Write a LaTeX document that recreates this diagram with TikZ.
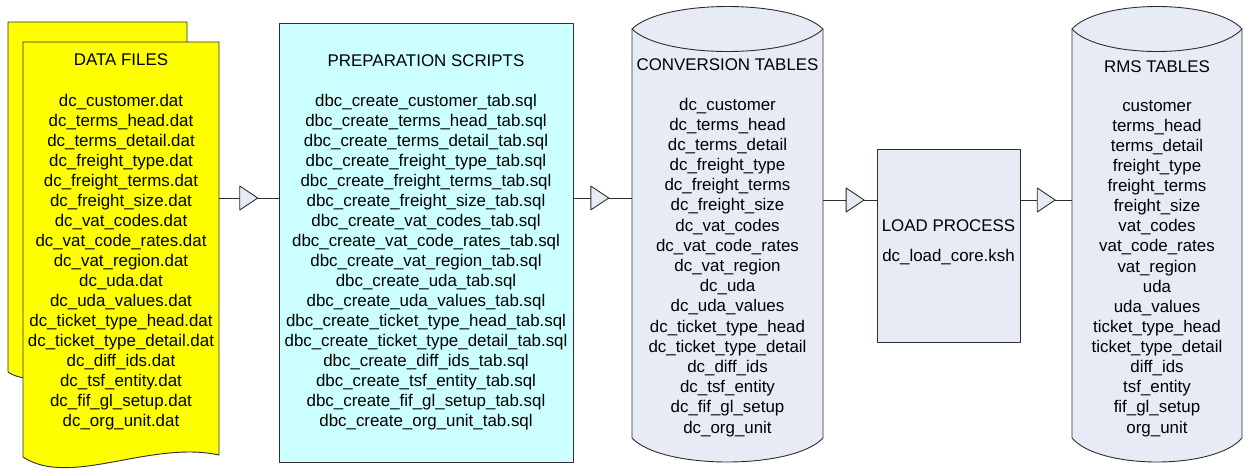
\documentclass[tikz,border=0pt]{standalone}
\usepackage{fontspec}
\setmainfont{Liberation Sans}
\usepackage{tikz}
\usetikzlibrary{calc}
\definecolor{edge}{HTML}{2E2E2E}
\definecolor{filefill}{HTML}{FFFF00}
\definecolor{scriptfill}{HTML}{CCFFFF}
\definecolor{tablefill}{HTML}{E6EBF5}
\tikzset{
  outline/.style={draw=edge, line width=0.9pt, line join=round},
  box/.style={outline, rectangle, inner sep=0pt},
  txt/.style={font=\fontsize{16.9pt}{20pt}\selectfont, text=black, inner sep=0pt,
              text height=12pt, text depth=0pt},
  link/.style={draw=edge, line width=0.9pt},
  tri/.style={draw=edge, fill=tablefill, line width=0.9pt, line join=round},
  flow/.pic={\path[tri] (-9,-12) -- (9,0) -- (-9,12) -- cycle;},
}

\begin{document}
\begin{tikzpicture}[x=1pt, y=-1pt]
  \useasboundingbox (0,0) rectangle (1243,469);
  % data files (two sheets)
  \path[outline, fill=filefill] (8,22) -- (187,22) -- (187,372)
    .. controls (120,356) and (40,394) .. (8,372) -- cycle;
  \path[outline, fill=filefill] (23,42) -- (219,42) -- (219,455)
    .. controls (150,440) and (70,488) .. (23,457) -- cycle;
  \node[txt] (dftitle) at (121,59) {DATA FILES};
  \foreach \t [count=\i] in {dc\_customer.dat, dc\_terms\_head.dat, dc\_terms\_detail.dat,
    dc\_freight\_type.dat, dc\_freight\_terms.dat, dc\_freight\_size.dat, dc\_vat\_codes.dat,
    dc\_vat\_code\_rates.dat, dc\_vat\_region.dat, dc\_uda.dat, dc\_uda\_values.dat,
    dc\_ticket\_type\_head.dat, dc\_ticket\_type\_detail.dat, dc\_diff\_ids.dat,
    dc\_tsf\_entity.dat, dc\_fif\_gl\_setup.dat, dc\_org\_unit.dat}
    \node[txt] (df\i) at (121,{100+20.06*(\i-1)}) {\t};
  \coordinate (df-e) at (219,198);

  % preparation scripts
  \node[box, fill=scriptfill, minimum width=294pt, minimum height=439pt] (prep) at (426,242.5) {};
  \node[txt] (preptitle) at (426,60) {PREPARATION SCRIPTS};
  \foreach \t [count=\i] in {dbc\_create\_customer\_tab.sql, dbc\_create\_terms\_head\_tab.sql,
    dbc\_create\_terms\_detail\_tab.sql, dbc\_create\_freight\_type\_tab.sql,
    dbc\_create\_freight\_terms\_tab.sql, dbc\_create\_freight\_size\_tab.sql,
    dbc\_create\_vat\_codes\_tab.sql, dbc\_create\_vat\_code\_rates\_tab.sql,
    dbc\_create\_vat\_region\_tab.sql, dbc\_create\_uda\_tab.sql, dbc\_create\_uda\_values\_tab.sql,
    dbc\_create\_ticket\_type\_head\_tab.sql, dbc\_create\_ticket\_type\_detail\_tab.sql,
    dbc\_create\_diff\_ids\_tab.sql, dbc\_create\_tsf\_entity\_tab.sql,
    dbc\_create\_fif\_gl\_setup\_tab.sql, dbc\_create\_org\_unit\_tab.sql}
    \node[txt] (ps\i) at (426,{100+20.06*(\i-1)}) {\t};

  % conversion tables
  \path[outline, fill=tablefill] (632,29) .. controls (662,-1) and (793,-1) .. (823,29)
    -- (823,438) .. controls (793,470) and (662,470) .. (632,438) -- cycle;
  \path[outline] (632,29) .. controls (662,59) and (793,59) .. (823,29);
  \node[txt] (cttitle) at (727.5,64) {CONVERSION TABLES};
  \foreach \t [count=\i] in {dc\_customer, dc\_terms\_head, dc\_terms\_detail, dc\_freight\_type,
    dc\_freight\_terms, dc\_freight\_size, dc\_vat\_codes, dc\_vat\_code\_rates, dc\_vat\_region,
    dc\_uda, dc\_uda\_values, dc\_ticket\_type\_head, dc\_ticket\_type\_detail, dc\_diff\_ids,
    dc\_tsf\_entity, dc\_fif\_gl\_setup, dc\_org\_unit}
    \node[txt] (ct\i) at (727.5,{104+20.19*(\i-1)}) {\t};
  \coordinate (ct-w) at (632,198);
  \coordinate (ct-e) at (823,200);

  % load process
  \node[box, fill=tablefill, minimum width=143pt, minimum height=193pt] (load) at (948.5,245.5) {};
  \node[txt] (loadtitle) at (948.5,225) {LOAD PROCESS};
  \node[txt] (loadfile) at (948.5,255) {dc\_load\_core.ksh};

  % rms tables
  \path[outline, fill=tablefill] (1072,29) .. controls (1099,-1) and (1215,-1) .. (1242,29)
    -- (1242,438) .. controls (1215,470) and (1099,470) .. (1072,438) -- cycle;
  \path[outline] (1072,29) .. controls (1099,59) and (1215,59) .. (1242,29);
  \node[txt] (rmstitle) at (1157,66) {RMS TABLES};
  \foreach \t [count=\i] in {customer, terms\_head, terms\_detail, freight\_type, freight\_terms,
    freight\_size, vat\_codes, vat\_code\_rates, vat\_region, uda, uda\_values, ticket\_type\_head,
    ticket\_type\_detail, diff\_ids, tsf\_entity, fif\_gl\_setup, org\_unit}
    \node[txt] (rt\i) at (1157,{105+20.13*(\i-1)}) {\t};
  \coordinate (rt-w) at (1072,200);

  % connectors
  \draw[link] (df-e) -- (df-e -| prep.west) coordinate[pos=0.5] (f1);
  \draw[link] (df-e -| prep.east) -- (ct-w) coordinate[pos=0.45] (f2);
  \draw[link] (ct-e) -- (ct-e -| load.west) coordinate[pos=0.6] (f3);
  \draw[link] (ct-e -| load.east) -- (rt-w) coordinate[pos=0.5] (f4);
  \foreach \f in {f1,f2,f3,f4}
    \pic at (\f) {flow};
\end{tikzpicture}
\end{document}
